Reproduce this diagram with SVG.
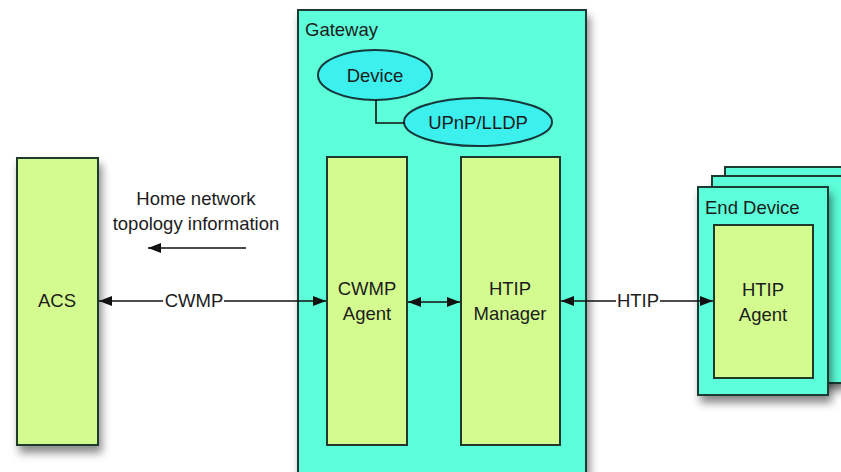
<svg xmlns="http://www.w3.org/2000/svg" width="841" height="472" viewBox="0 0 841 472">
  <style>
    text { font-family: "Liberation Sans", Arial, Helvetica, sans-serif; font-size: 18.5px; fill: #1c1c1c; }
    .mid { text-anchor: middle; }
    .cyan { fill: #5cffda; stroke: #1f3a33; stroke-width: 2; }
    .lime { fill: #d3fb8f; stroke: #1f3a2a; stroke-width: 2; }
    .oval { fill: #3cf0ee; stroke: #16363a; stroke-width: 2; }
    .wire { fill: none; stroke: #111; stroke-width: 1.6; }
  </style>
  <defs>
    <filter id="shadow" x="-20%" y="-20%" width="150%" height="150%">
      <feDropShadow dx="3" dy="7" stdDeviation="4" flood-color="#000" flood-opacity="0.45"/>
    </filter>
    <marker id="head" viewBox="0 0 13 10" refX="13" refY="5" markerWidth="13" markerHeight="10" markerUnits="userSpaceOnUse" orient="auto-start-reverse">
      <path d="M0,0 L13,5 L0,10 z" fill="#111"/>
    </marker>
  </defs>

  <rect width="841" height="472" fill="#ffffff"/>

  <!-- ACS -->
  <g id="acs">
    <rect class="lime" x="17" y="158" width="81" height="287" filter="url(#shadow)"/>
    <text class="mid" x="57" y="307">ACS</text>
  </g>

  <!-- Gateway container -->
  <g id="gateway">
    <rect class="cyan" x="298" y="10" width="288" height="475" filter="url(#shadow)"/>
    <text x="305" y="36">Gateway</text>
  </g>

  <g id="device">
    <ellipse class="oval" cx="375" cy="75" rx="57" ry="25"/>
    <text class="mid" x="375" y="82">Device</text>
  </g>

  <g id="upnp-lldp">
    <ellipse class="oval" cx="478" cy="122" rx="74" ry="24"/>
    <text class="mid" x="478" y="129">UPnP/LLDP</text>
  </g>

  <g id="cwmp-agent">
    <rect class="lime" x="327" y="157" width="80" height="288"/>
    <text class="mid" x="367" y="295">CWMP</text>
    <text class="mid" x="367" y="320">Agent</text>
  </g>

  <g id="htip-manager">
    <rect class="lime" x="461" y="157" width="99" height="288"/>
    <text class="mid" x="510" y="295">HTIP</text>
    <text class="mid" x="510" y="320">Manager</text>
  </g>

  <!-- End device stack -->
  <g id="end-device">
    <rect class="cyan" x="725" y="167" width="131" height="208" filter="url(#shadow)"/>
    <rect class="cyan" x="712" y="176" width="131" height="207" filter="url(#shadow)"/>
    <rect class="cyan" x="698" y="187" width="130" height="208" filter="url(#shadow)"/>
    <text x="705" y="214">End Device</text>
  </g>

  <g id="htip-agent">
    <rect class="lime" x="714" y="225" width="99" height="153"/>
    <text class="mid" x="763" y="296">HTIP</text>
    <text class="mid" x="763" y="321">Agent</text>
  </g>

  <!-- Connectors -->
  <g id="connectors">
    <path class="wire" d="M376,100 V123 H405"/>
    <path class="wire" d="M99,301 H326" marker-start="url(#head)" marker-end="url(#head)"/>
    <path class="wire" d="M408,302 H460" marker-start="url(#head)" marker-end="url(#head)"/>
    <path class="wire" d="M561,301 H713" marker-start="url(#head)" marker-end="url(#head)"/>
    <path class="wire" d="M246,248 H148" marker-end="url(#head)"/>
    <rect x="163" y="290" width="61" height="22" fill="#ffffff"/>
    <text class="mid" x="194" y="307">CWMP</text>
    <rect x="616" y="290" width="44" height="22" fill="#ffffff"/>
    <text class="mid" x="638" y="307">HTIP</text>
    <text class="mid" x="196" y="205">Home network</text>
    <text class="mid" x="196" y="230">topology information</text>
  </g>
</svg>
